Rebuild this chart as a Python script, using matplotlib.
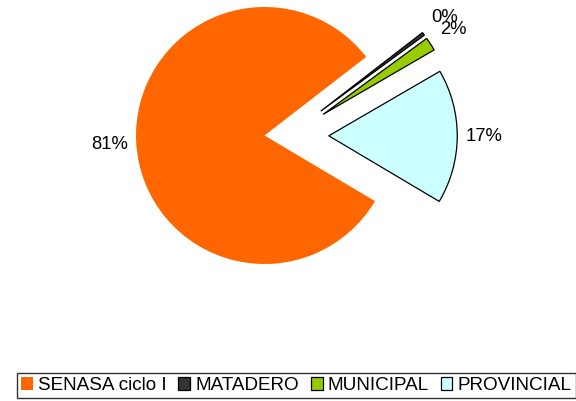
import matplotlib
matplotlib.use("Agg")
import matplotlib.pyplot as plt
from matplotlib.transforms import offset_copy

categories = ["SENASA ciclo I", "MATADERO", "MUNICIPAL", "PROVINCIAL"]
values = [81.0, 0.4, 1.7, 16.9]
colors = ["#FF6600", "#333333", "#99CC00", "#CCFFFF"]
explode = [0.0, 0.47, 0.47, 0.5]

plt.rcParams['font.family'] = ['Liberation Sans', 'DejaVu Sans']

W, H = 576, 401
fig = plt.figure(figsize=(W / 100, H / 100), dpi=100)
ax = fig.add_axes([0, 0, 1, 1])

wedges, texts, autotexts = ax.pie(
    values, colors=colors, explode=explode, startangle=-30.7,
    counterclock=False, radius=1.0, autopct='%.0f%%', pctdistance=1.21,
    textprops=dict(fontsize=13.3, color='black'),
    wedgeprops=dict(edgecolor='black', linewidth=0.9),
)
wedges[0].set_linewidth(0)
wedges[0].set_edgecolor('none')

# small slices are pulled out a little further to the lower right, as in the reference
shift = offset_copy(ax.transData, fig=fig, x=8, y=-12, units='dots')
for i in (1, 2):
    wedges[i].set_transform(shift)
    autotexts[i].set_transform(shift)

cx, cy, r = 264.5, 135.5, 128.5
ax.set_aspect('auto')
ax.set_xlim(-cx / r, (W - cx) / r)
ax.set_ylim(-(H - cy) / r, cy / r)
ax.axis('off')

leg = fig.legend(
    wedges, categories, loc='lower center', bbox_to_anchor=(0.5145, 0.007),
    ncol=4, fontsize=13.6, frameon=True, fancybox=False,
    handlelength=0.62, handleheight=0.62, handletextpad=0.28,
    columnspacing=0.62, borderpad=0.22, borderaxespad=0,
)
leg.get_frame().set_edgecolor('black')
leg.get_frame().set_linewidth(1.0)

fig.savefig("out.png", dpi=100)
